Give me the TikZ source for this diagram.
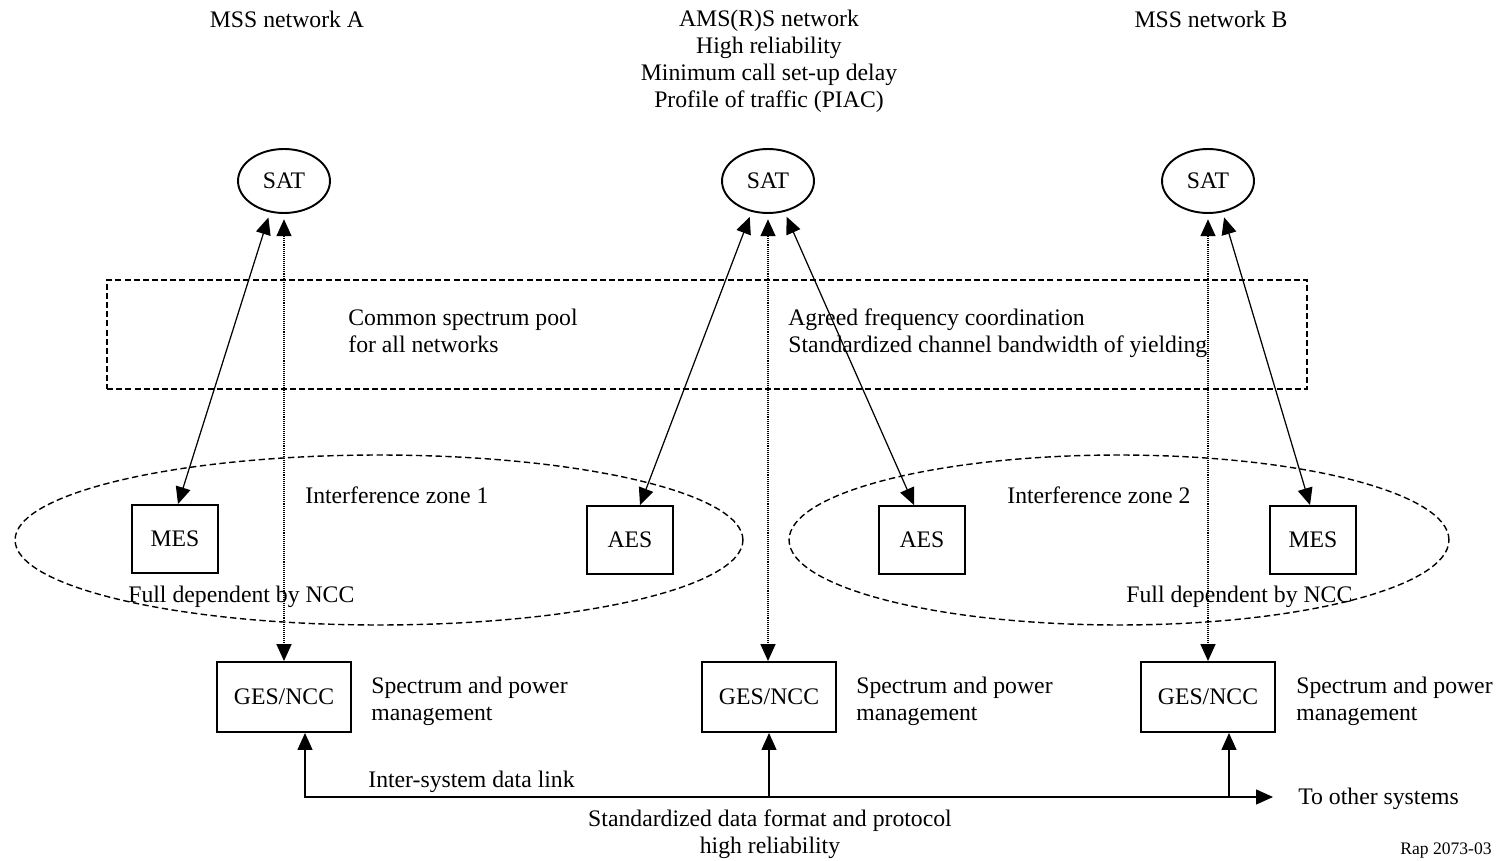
\documentclass[tikz,border=0pt]{standalone}
\usepackage{fontspec}
\setmainfont{Liberation Serif}
\usetikzlibrary{arrows.meta,shapes.geometric}
\begin{document}
\begin{tikzpicture}[x=0.02cm,y=-0.02cm,
  font=\fontsize{13.5}{15.3}\selectfont,
  txt/.style={inner sep=0pt},
  ltxt/.style={inner sep=0pt,anchor=west,align=left},
  ctxt/.style={inner sep=0pt,align=center},
  sat/.style={ellipse,draw,line width=1.1pt,minimum width=1.84cm,minimum height=1.28cm,inner sep=0pt},
  box/.style={rectangle,draw,line width=1.1pt,minimum width=1.72cm,minimum height=1.36cm,inner sep=0pt},
  gbox/.style={rectangle,draw,line width=1.1pt,minimum width=2.68cm,minimum height=1.4cm,inner sep=0pt},
  zone/.style={ellipse,draw,line width=0.8pt,dash pattern=on 3.6pt off 2pt,minimum height=3.4cm,inner sep=0pt},
  pool/.style={rectangle,draw,line width=0.8pt,dash pattern=on 3.4pt off 1.8pt,inner sep=0pt},
  solidarr/.style={line width=0.7pt,{Triangle[length=0.34cm,width=0.3cm]}-{Triangle[length=0.34cm,width=0.3cm]}},
  dotarr/.style={line width=0.9pt,dash pattern=on 0.5pt off 0.6pt,{Triangle[length=0.34cm,width=0.3cm]}-{Triangle[length=0.34cm,width=0.3cm]}},
  uparr/.style={line width=0.7pt,-{Triangle[length=0.34cm,width=0.3cm]}}
]
\useasboundingbox (0,0) rectangle (1501,861);

% top labels
\node[txt] (lblA) at (287,19) {MSS network A};
\node[ctxt] (lblM) at (769,61) {AMS(R)S network\\High reliability\\Minimum call set-up delay\\Profile of traffic (PIAC)};
\node[txt] (lblB) at (1211,19) {MSS network B};

% satellites
\node[sat] (satA) at (284,181) {SAT};
\node[sat] (satM) at (768,181) {SAT};
\node[sat] (satB) at (1208,181) {SAT};

% spectrum pool
\node[pool,minimum width=24cm,minimum height=2.18cm] (pool) at (707,334.5) {};
\node[ltxt] (poolL) at (348,331) {Common spectrum pool\\for all networks};
\node[ltxt] (poolR) at (788,333) {Agreed frequency coordination\\Standardized channel bandwidth of yielding};

% interference zones
\node[zone,minimum width=14.56cm] (zone1) at (379,540) {};
\node[zone,minimum width=13.2cm] (zone2) at (1119,540) {};
\node[ltxt] (z1lbl) at (305,495) {Interference zone 1};
\node[ltxt] (z2lbl) at (1007,495) {Interference zone 2};

% earth stations
\node[box] (mesA) at (175,539) {MES};
\node[box] (aes1) at (630,540) {AES};
\node[box] (aes2) at (922,540) {AES};
\node[box] (mesB) at (1313,540) {MES};
\node[ltxt] (fdA) at (128,597) {Full dependent by NCC};
\node[ltxt] (fdB) at (1126,597) {Full dependent by NCC};

% ground stations
\node[gbox] (gesA) at (284,697) {GES/NCC};
\node[gbox] (gesM) at (769,697) {GES/NCC};
\node[gbox] (gesB) at (1208,697) {GES/NCC};
\node[ltxt] (spA) at (371,701) {Spectrum and power\\management};
\node[ltxt] (spM) at (856,701) {Spectrum and power\\management};
\node[ltxt] (spB) at (1296,701) {Spectrum and power\\management};

% satellite links
\draw[solidarr,shorten <=3pt] (satA.246) -- ([xshift=0.06cm]mesA.north);
\draw[dotarr,shorten <=3pt] (satA.south) -- (satA.south |- gesA.north);
\draw[solidarr,shorten <=3pt] (satM.242) -- ([xshift=0.2cm]aes1.north);
\draw[dotarr,shorten <=3pt] (satM.south) -- (satM.south |- gesM.north);
\draw[solidarr,shorten <=3pt] (satM.298) -- ([xshift=-0.16cm]aes2.north);
\draw[dotarr,shorten <=3pt] (satB.south) -- (satB.south |- gesB.north);
\draw[solidarr,shorten <=3pt] (satB.295) -- ([xshift=-0.06cm]mesB.north);

% inter-system data link
\coordinate (toother) at (1273,797);
\draw[solidarr] ([xshift=0.42cm]gesA.south) |- (toother);
\draw[uparr] (gesM.south |- toother) -- (gesM.south);
\draw[uparr] ([xshift=0.42cm]gesB.south |- toother) -- ([xshift=0.42cm]gesB.south);
\node[ltxt] (otherlbl) at (1298,799) {To other systems};
\node[ltxt] (islbl) at (368,782) {Inter-system data link};
\node[ctxt] (stdlbl) at (770,834) {Standardized data format and protocol\\high reliability};

\node[inner sep=0pt,anchor=east,font=\fontsize{10}{12}\selectfont] (ref) at (1492,851) {Rap 2073-03};
\end{tikzpicture}
\end{document}
